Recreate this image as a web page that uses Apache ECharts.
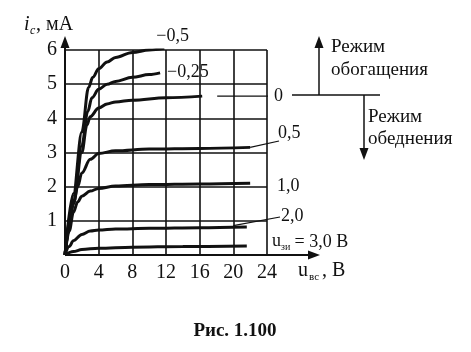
<!DOCTYPE html>
<html>
<head>
<meta charset="utf-8">
<script src="https://cdn.jsdelivr.net/npm/echarts@6/dist/echarts.min.js"></script>
<style>
  html, body { margin: 0; background: #fff; }
  #chart { width: 471px; height: 352px; }
</style>
</head>
<body>
<div id="chart"></div>
<script>
const FONT = '"Liberation Serif", "DejaVu Serif", serif'
const INK = '#111'

// gate voltage of each curve, uзи, V
const gateLabels = ['−0,5', '−0,25', '0', '0,5', '1,0', '2,0', '3,0']

// drain current ic (mA) against drain voltage uвс (V)
const curveNeg05 = [[0, 0], [1, 1.8], [2, 3.6], [2.8, 4.9], [3.3, 5.2], [4, 5.45], [5, 5.65], [6, 5.78], [8, 5.93], [10, 6.0], [11.8, 6.05]]
const curveNeg025 = [[0, 0], [1, 1.6], [2, 3.2], [2.7, 4.2], [3.2, 4.6], [4, 4.85], [5, 5.0], [6, 5.08], [8, 5.2], [10, 5.28], [11.3, 5.33]]
const curveZero = [[0, 0], [1, 1.5], [2, 3.0], [2.6, 3.8], [3, 4.05], [4, 4.3], [5, 4.42], [6, 4.48], [8, 4.53], [12, 4.6], [16.3, 4.65]]
const curvePos05 = [[0, 0], [0.5, 0.8], [1, 1.5], [1.5, 2.0], [2, 2.4], [3, 2.8], [4, 2.97], [6, 3.05], [10, 3.1], [16, 3.12], [22, 3.15]]
const curvePos10 = [[0, 0], [0.5, 0.7], [1, 1.25], [1.5, 1.55], [2, 1.72], [3, 1.87], [4, 1.95], [6, 2.02], [10, 2.06], [16, 2.08], [22, 2.1]]
const curvePos20 = [[0, 0], [0.5, 0.25], [1, 0.42], [2, 0.6], [3, 0.7], [4, 0.73], [6, 0.76], [10, 0.78], [16, 0.8], [21.6, 0.82]]
const curvePos30 = [[0, 0], [1, 0.1], [2, 0.16], [4, 0.2], [8, 0.23], [14, 0.25], [21.6, 0.26]]

const curves = [curveNeg05, curveNeg025, curveZero, curvePos05, curvePos10, curvePos20, curvePos30]

const chart = echarts.init(document.getElementById('chart'))

chart.setOption({
  animation: false,
  backgroundColor: '#fff',
  grid: { left: 65, right: 204, top: 50, bottom: 97 },
  xAxis: {
    type: 'value', min: 0, max: 24, interval: 4,
    axisLine: { show: false },
    axisTick: { show: false },
    splitLine: { lineStyle: { color: INK, width: 1.6 } },
    axisLabel: { color: INK, fontFamily: FONT, fontSize: 20, margin: 8 }
  },
  yAxis: {
    type: 'value', min: 0, max: 6, interval: 1,
    axisLine: { show: false },
    axisTick: { show: false },
    splitLine: { lineStyle: { color: INK, width: 1.6 } },
    axisLabel: { color: INK, fontFamily: FONT, fontSize: 20, margin: 8, showMinLabel: false }
  },
  series: curves.map((c, i) => ({
    name: gateLabels[i],
    type: 'line',
    data: c,
    smooth: 0.35,
    smoothMonotone: 'x',
    showSymbol: false,
    lineStyle: { color: INK, width: 3 }
  }))
})

// annotations: axes with arrows, curve labels, leaders, mode diagram
const px = (x, y) => chart.convertToPixel({ gridIndex: 0 }, [x, y])
const [ox, oy] = px(0, 0)

function txt(text, x, y, size, extra) {
  return {
    type: 'text', x: x, y: y, silent: true,
    style: Object.assign({ text: text, fill: INK, font: size + 'px ' + FONT, textVerticalAlign: 'middle' }, extra || {})
  }
}
function seg(x1, y1, x2, y2, w) {
  return { type: 'line', silent: true, shape: { x1, y1, x2, y2 }, style: { stroke: INK, lineWidth: w || 1.4 } }
}
function arrowHead(tx, ty, dir) {
  // dir: 'up', 'down', 'right'
  let pts
  if (dir === 'up') pts = [[tx, ty], [tx - 4.5, ty + 12], [tx + 4.5, ty + 12]]
  else if (dir === 'down') pts = [[tx, ty], [tx - 4.5, ty - 12], [tx + 4.5, ty - 12]]
  else pts = [[tx, ty], [tx - 12, ty - 4.5], [tx - 12, ty + 4.5]]
  return { type: 'polygon', silent: true, shape: { points: pts }, style: { fill: INK } }
}

const endNeg05 = px(...curveNeg05[curveNeg05.length - 1])
const endPos05 = px(...curvePos05[curvePos05.length - 1])
const endZero = px(...curveZero[curveZero.length - 1])
const onPos20 = px(20, 0.86)

const elements = [
  // axes
  seg(ox, oy, ox, 44, 2), arrowHead(ox, 36, 'up'),
  seg(ox, oy, 312, oy, 2), arrowHead(320, oy, 'right'),
  // axis titles
  txt('i', 24, 25, 20, { font: 'italic 20px ' + FONT }),
  txt('c', 30, 31, 12, { font: 'italic 12px ' + FONT }),
  txt(', мА', 36, 25, 20),
  txt('u', 298, 271, 20),
  txt('вс', 309, 277, 11),
  txt(', В', 322, 271, 20),
  // curve labels
  txt(gateLabels[0], endNeg05[0] - 8, 36, 18),
  txt(gateLabels[1], 167, 72, 18),
  seg(endZero[0] + 15, endZero[1], 268, endZero[1], 1.2),
  txt(gateLabels[2], 274, endZero[1], 18),
  seg(endPos05[0], endPos05[1], 279, 141, 1.2),
  txt(gateLabels[3], 278, 133, 18),
  txt(gateLabels[4], 277, 186, 18),
  seg(onPos20[0], onPos20[1], 280, 217, 1.2),
  txt(gateLabels[5], 281, 216, 18),
  txt('u', 272, 241, 18),
  txt('зи', 281, 247, 10),
  txt(' = ' + gateLabels[6] + ' В', 290, 242, 18),
  // mode diagram
  seg(292, 95, 380, 95, 1.5),
  seg(319, 95, 319, 46, 1.5), arrowHead(319, 36, 'up'),
  seg(364, 95, 364, 150, 1.5), arrowHead(364, 160, 'down'),
  txt('Режим', 331, 47, 19),
  txt('обогащения', 331, 70, 19),
  txt('Режим', 368, 117, 19),
  txt('обеднения', 368, 139, 19),
  // caption
  txt('Рис. 1.100', 235, 331, 19, { textAlign: 'center', font: 'bold 19px ' + FONT })
]

chart.setOption({ graphic: { elements: elements } })
</script>
</body>
</html>
